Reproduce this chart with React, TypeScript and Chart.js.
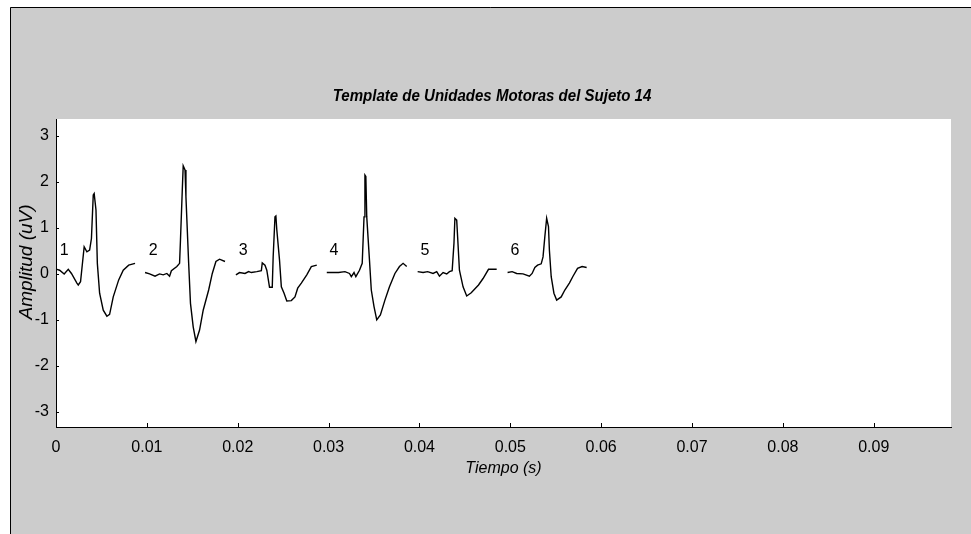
import { useEffect, useRef } from 'react';
import { Chart, registerables } from 'chart.js';

Chart.register(...registerables);

const FONT = "'Liberation Sans', Arial, Helvetica, sans-serif";

const TITLE = 'Template de Unidades Motoras del Sujeto 14';
const X_TITLE = 'Tiempo (s)';
const Y_TITLE = 'Amplitud (uV)';

const xTicks = [0, 0.01, 0.02, 0.03, 0.04, 0.05, 0.06, 0.07, 0.08, 0.09];
const xTickLabels = ['0', '0.01', '0.02', '0.03', '0.04', '0.05', '0.06', '0.07', '0.08', '0.09'];
const yTicks = [-3, -2, -1, 0, 1, 2, 3];
const yTickLabels = ['-3', '-2', '-1', '0', '1', '2', '3'];

const unitNames = ['1', '2', '3', '4', '5', '6'];
const unitLabelX = [0.00089, 0.0107, 0.0206, 0.0306, 0.0406, 0.0505];
const unitLabelY = [0.5, 0.5, 0.5, 0.5, 0.5, 0.5];

const mu1Time = [0.0001, 0.0004, 0.0009, 0.00135, 0.0017, 0.0023, 0.00245, 0.0027, 0.0031, 0.0034, 0.0037, 0.0039, 0.0041, 0.0042, 0.0044, 0.00455, 0.0048, 0.0052, 0.0056, 0.0059, 0.0063, 0.0069, 0.0074, 0.008, 0.0087];
const mu1Amp = [0.1, 0.08, 0.0, 0.1, 0.01, -0.2, -0.24, -0.17, 0.59, 0.48, 0.52, 0.77, 1.72, 1.75, 1.39, 0.23, -0.42, -0.79, -0.92, -0.88, -0.5, -0.13, 0.08, 0.19, 0.23];

const mu2Time = [0.0098, 0.0103, 0.0109, 0.0114, 0.0118, 0.0122, 0.0125, 0.0127, 0.0133, 0.0136, 0.0137, 0.0139, 0.014, 0.0142, 0.0143, 0.0146, 0.0148, 0.0151, 0.0154, 0.0158, 0.0162, 0.0168, 0.0172, 0.0176, 0.018, 0.0186];
const mu2Amp = [0.03, 0.0, -0.05, 0.0, -0.02, 0.01, -0.05, 0.07, 0.16, 0.23, 0.74, 1.83, 2.35, 2.26, 1.68, 0.23, -0.64, -1.15, -1.47, -1.22, -0.79, -0.35, 0.01, 0.27, 0.32, 0.27];

const mu3Time = [0.0198, 0.0202, 0.0208, 0.0212, 0.0215, 0.0221, 0.0226, 0.0227, 0.023, 0.0232, 0.0235, 0.0238, 0.0239, 0.0241, 0.0242, 0.0243, 0.0246, 0.0248, 0.0251, 0.0254, 0.0259, 0.0263, 0.0266, 0.027, 0.0276, 0.0281, 0.0287];
const mu3Amp = [-0.02, 0.03, 0.01, 0.05, 0.03, 0.05, 0.07, 0.24, 0.19, 0.08, -0.29, -0.29, 0.37, 1.24, 1.26, 0.96, 0.3, -0.28, -0.42, -0.59, -0.58, -0.5, -0.31, -0.2, -0.02, 0.16, 0.19];

const mu4Time = [0.0298, 0.0305, 0.0311, 0.0318, 0.0323, 0.0325, 0.0328, 0.033, 0.0334, 0.0337, 0.0339, 0.034, 0.0341, 0.0342, 0.0345, 0.0347, 0.035, 0.0353, 0.0357, 0.0362, 0.0367, 0.0373, 0.0378, 0.0382, 0.0386];
const mu4Amp = [0.03, 0.03, 0.03, 0.05, 0.01, -0.06, 0.03, -0.06, 0.08, 0.23, 1.24, 2.15, 2.12, 1.24, 0.3, -0.35, -0.71, -1.0, -0.89, -0.57, -0.28, 0.01, 0.16, 0.23, 0.16];

const mu5Time = [0.0398, 0.0404, 0.0409, 0.0415, 0.0419, 0.0422, 0.0426, 0.043, 0.0433, 0.0436, 0.0438, 0.0439, 0.0441, 0.0442, 0.0444, 0.0448, 0.0452, 0.0457, 0.0465, 0.047, 0.0476, 0.0485];
const mu5Amp = [0.05, 0.03, 0.05, 0.01, 0.05, -0.05, 0.03, 0.0, 0.05, 0.07, 0.67, 1.21, 1.17, 0.81, 0.08, -0.28, -0.48, -0.41, -0.24, -0.1, 0.1, 0.1];

const mu6Time = [0.0497, 0.0502, 0.0507, 0.0514, 0.0521, 0.0524, 0.0527, 0.053, 0.0534, 0.0536, 0.0538, 0.054, 0.0542, 0.0543, 0.0545, 0.0548, 0.0551, 0.0556, 0.056, 0.0565, 0.0569, 0.0574, 0.0579, 0.0584];
const mu6Amp = [0.03, 0.05, 0.01, 0.0, -0.05, 0.01, 0.14, 0.19, 0.22, 0.37, 0.81, 1.21, 1.03, 0.52, -0.06, -0.42, -0.57, -0.5, -0.35, -0.2, -0.05, 0.12, 0.16, 0.14];

const unitTimes = [mu1Time, mu2Time, mu3Time, mu4Time, mu5Time, mu6Time];
const unitAmps = [mu1Amp, mu2Amp, mu3Amp, mu4Amp, mu5Amp, mu6Amp];

const X_MIN = 0;
const X_MAX = 0.0985;
const Y_MIN = -3.33;
const Y_MAX = 3.37;

const W = 971;
const H = 534;

const backgroundPlugin = {
  id: 'figureBackground',
  beforeDraw(chart: any) {
    const { ctx, chartArea } = chart;
    ctx.save();
    ctx.fillStyle = '#ffffff';
    ctx.fillRect(0, 0, W, H);
    ctx.fillStyle = '#cccccc';
    ctx.fillRect(10, 7, W - 10, H - 7);
    ctx.strokeStyle = '#000000';
    ctx.lineWidth = 1;
    ctx.beginPath();
    ctx.moveTo(10.5, H);
    ctx.lineTo(10.5, 7.5);
    ctx.lineTo(W, 7.5);
    ctx.stroke();
    ctx.fillStyle = '#ffffff';
    ctx.fillRect(chartArea.left, chartArea.top, chartArea.right - chartArea.left, chartArea.bottom - chartArea.top);
    ctx.restore();
  },
};

const decorPlugin = {
  id: 'decor',
  afterDraw(chart: any) {
    const { ctx, chartArea, scales } = chart;
    const xs = scales.x;
    const ys = scales.y;
    ctx.save();
    ctx.strokeStyle = '#000000';
    ctx.lineWidth = 1;
    ctx.beginPath();
    yTicks.forEach((v) => {
      const py = Math.round(ys.getPixelForValue(v)) + 0.5;
      ctx.moveTo(chartArea.left, py);
      ctx.lineTo(chartArea.left + 3, py);
    });
    xTicks.forEach((v) => {
      const px = Math.round(xs.getPixelForValue(v)) + 0.5;
      ctx.moveTo(px, chartArea.bottom);
      ctx.lineTo(px, chartArea.bottom - 4);
    });
    ctx.stroke();

    ctx.fillStyle = '#000000';
    ctx.textAlign = 'center';
    ctx.textBaseline = 'middle';
    ctx.font = `16px ${FONT}`;
    unitNames.forEach((name, i) => {
      ctx.fillText(name, xs.getPixelForValue(unitLabelX[i]), ys.getPixelForValue(unitLabelY[i]));
    });

    ctx.save();
    ctx.translate(492, 97);
    ctx.scale(0.94, 1);
    ctx.font = `italic bold 16px ${FONT}`;
    ctx.fillText(TITLE, 0, 0);
    ctx.restore();

    ctx.save();
    ctx.translate(27, 262);
    ctx.rotate(-Math.PI / 2);
    ctx.font = `italic 19px ${FONT}`;
    ctx.fillText(Y_TITLE, 0, 0);
    ctx.restore();

    ctx.restore();
  },
};

export default function App() {
  const canvasRef = useRef<HTMLCanvasElement | null>(null);

  useEffect(() => {
    const canvas = canvasRef.current;
    if (!canvas) return;
    const datasets = unitTimes.map((times, u) => ({
      label: unitNames[u],
      data: times.map((t, i) => ({ x: t, y: unitAmps[u][i] })),
      borderColor: '#000000',
      borderWidth: 1.4,
      pointRadius: 0,
      fill: false,
      tension: 0,
    }));
    const chart = new Chart(canvas, {
      type: 'line',
      data: { datasets },
      options: {
        animation: false,
        responsive: false,
        devicePixelRatio: 1,
        layout: { padding: { top: 119, right: 20, bottom: 0, left: 0 } },
        plugins: {
          legend: { display: false },
          tooltip: { enabled: false },
          title: { display: false },
        },
        scales: {
          x: {
            type: 'linear',
            min: X_MIN,
            max: X_MAX,
            afterBuildTicks: (s: any) => {
              s.ticks = xTicks.map((v) => ({ value: v }));
            },
            afterFit: (s: any) => {
              s.height = H - 427;
            },
            grid: { display: false, drawTicks: false },
            border: { display: true, color: '#000000', width: 1 },
            ticks: {
              color: '#000000',
              font: { family: FONT, size: 16 },
              padding: 11,
              maxRotation: 0,
              autoSkip: false,
              callback: (_v: any, i: number) => xTickLabels[i],
            },
            title: {
              display: true,
              text: X_TITLE,
              color: '#000000',
              font: { family: FONT, size: 16, style: 'italic' },
              padding: { top: 0, bottom: 56 },
            },
          },
          y: {
            type: 'linear',
            min: Y_MIN,
            max: Y_MAX,
            afterBuildTicks: (s: any) => {
              s.ticks = yTicks.map((v) => ({ value: v }));
            },
            afterFit: (s: any) => {
              s.width = 56;
            },
            grid: { display: false, drawTicks: false },
            border: { display: true, color: '#000000', width: 1 },
            ticks: {
              color: '#000000',
              font: { family: FONT, size: 16 },
              padding: 7,
              autoSkip: false,
              callback: (_v: any, i: number) => yTickLabels[i],
            },
          },
        },
      },
      plugins: [backgroundPlugin, decorPlugin],
    });
    return () => chart.destroy();
  }, []);

  return (
    <div style={{ position: 'fixed', left: 0, top: 0, width: W, height: H }}>
      <canvas ref={canvasRef} width={W} height={H} style={{ display: 'block', width: W, height: H }} />
    </div>
  );
}
